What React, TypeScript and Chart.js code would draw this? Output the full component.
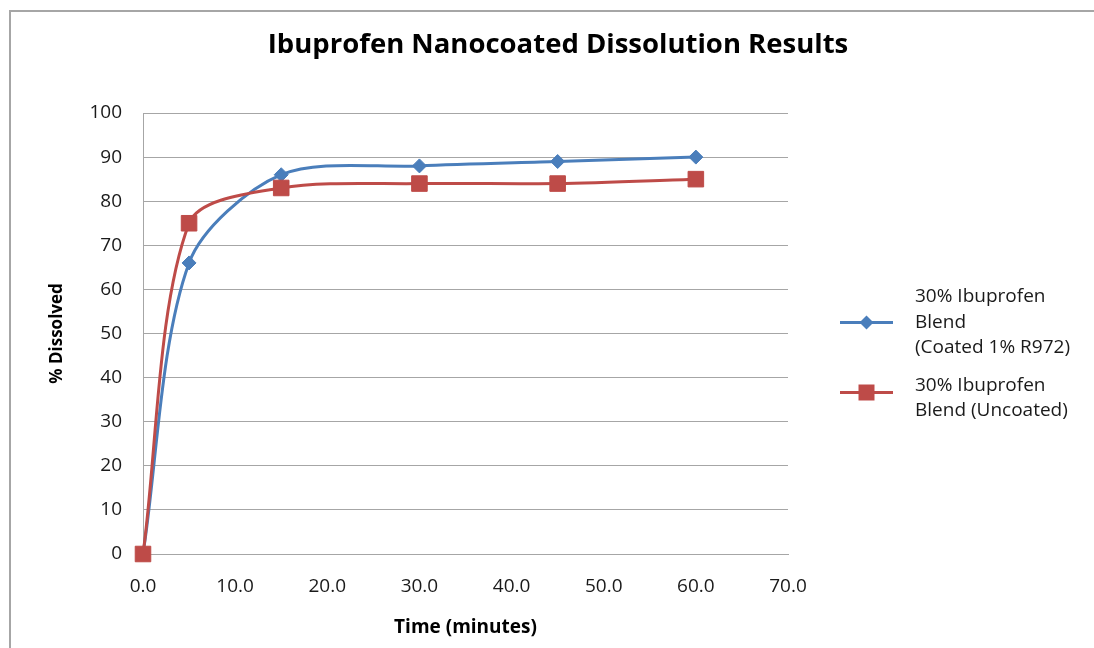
import React, { useEffect, useRef } from "react";
import { Chart, registerables } from "chart.js";

Chart.register(...registerables);

const TITLE = "Ibuprofen Nanocoated Dissolution Results";
const X_TITLE = "Time (minutes)";
const Y_TITLE = "% Dissolved";
const TIMES = [0, 5, 15, 30, 45, 60];
const COATED = [0, 66, 86, 88, 89, 90];
const UNCOATED = [0, 75, 83, 84, 84, 85];
const SERIES_LABELS = [
  ["30% Ibuprofen", "Blend", "(Coated 1% R972)"],
  ["30% Ibuprofen", "Blend (Uncoated)"],
];
const COLORS = ["#4A7EBB", "#BE4B48"];
const FONT = "'Open Sans', 'Noto Sans', sans-serif";

const titleAndLegend = {
  id: "titleAndLegend",
  afterDraw(chart: any) {
    const { ctx, chartArea } = chart;
    ctx.save();
    // title
    ctx.font = `bold 27.5px ${FONT}`;
    ctx.fillStyle = "#000";
    ctx.textAlign = "center";
    ctx.textBaseline = "middle";
    ctx.fillText(TITLE, chart.width / 2 + 11, 45);

    // legend
    const lineStart = chartArea.right + 52;
    const lineEnd = chartArea.right + 105;
    const textX = chartArea.right + 127;
    const lh = 25.5;
    let y = 297;
    ctx.font = `19px ${FONT}`;
    ctx.textAlign = "left";
    chart.data.datasets.forEach((ds: any, i: number) => {
      const lines = SERIES_LABELS[i];
      const my = i === 0 ? y + lh : y + 7;
      const mx = (lineStart + lineEnd) / 2;
      ctx.strokeStyle = ds.borderColor;
      ctx.lineWidth = 3;
      ctx.beginPath();
      ctx.moveTo(lineStart, my);
      ctx.lineTo(lineEnd, my);
      ctx.stroke();
      ctx.fillStyle = ds.backgroundColor;
      ctx.beginPath();
      if (ds.pointStyle === "rectRot") {
        const r = 7;
        ctx.moveTo(mx - r, my);
        ctx.lineTo(mx, my - r);
        ctx.lineTo(mx + r, my);
        ctx.lineTo(mx, my + r);
        ctx.closePath();
      } else {
        const s = 8;
        ctx.rect(mx - s, my - s, 2 * s, 2 * s);
      }
      ctx.fill();
      ctx.fillStyle = "#1a1a1a";
      lines.forEach((t: string, k: number) => {
        ctx.fillText(t, textX, y + k * lh);
      });
      y += lines.length * lh + 12;
    });
    ctx.restore();
  },
};

export default function App() {
  const ref = useRef<HTMLCanvasElement>(null);
  useEffect(() => {
    if (!ref.current) return;
    const chart = new Chart(ref.current, {
      type: "line",
      data: {
        datasets: [
          {
            label: SERIES_LABELS[0].join(" "),
            data: TIMES.map((t, i) => ({ x: t, y: COATED[i] })),
            borderColor: COLORS[0],
            backgroundColor: COLORS[0],
            borderWidth: 3,
            pointStyle: "rectRot",
            pointRadius: 7,
            pointBorderWidth: 1,
            tension: 0.3,
            clip: false,
            order: 2,
          },
          {
            label: SERIES_LABELS[1].join(" "),
            data: TIMES.map((t, i) => ({ x: t, y: UNCOATED[i] })),
            borderColor: COLORS[1],
            backgroundColor: COLORS[1],
            borderWidth: 3,
            pointStyle: "rect",
            pointRadius: 11,
            pointBorderWidth: 1,
            tension: 0.3,
            clip: false,
            order: 1,
          },
        ],
      },
      options: {
        responsive: false,
        animation: false,
        layout: { padding: { left: 0, right: 306, top: 113, bottom: 0 } },
        plugins: {
          legend: { display: false },
          tooltip: { enabled: false },
          title: { display: false },
        },
        scales: {
          x: {
            type: "linear",
            min: 0,
            max: 70,
            ticks: {
              stepSize: 10,
              padding: 21,
              color: "#1a1a1a",
              font: { family: FONT, size: 19 },
              callback: (v: any) => Number(v).toFixed(1),
            },
            grid: { display: false, drawTicks: false },
            border: { display: true, color: "#a6a6a6", width: 1 },
            title: {
              display: true,
              text: X_TITLE,
              color: "#000",
              font: { family: FONT, size: 19, weight: "bold" },
              padding: { top: 0, bottom: 9 },
            },
            afterFit: (s: any) => {
              s.height = 94;
            },
          },
          y: {
            min: 0,
            max: 100,
            ticks: {
              stepSize: 10,
              padding: 21,
              color: "#1a1a1a",
              font: { family: FONT, size: 19 },
            },
            grid: { color: "#a6a6a6", lineWidth: 1, drawTicks: false },
            border: { display: true, color: "#a6a6a6", width: 1 },
            title: {
              display: true,
              text: Y_TITLE,
              color: "#000",
              font: { family: FONT, size: 17, weight: "bold" },
              padding: { top: 47, bottom: 0 },
            },
            afterFit: (s: any) => {
              s.width = 143;
            },
          },
        },
      },
      plugins: [titleAndLegend],
    });
    return () => chart.destroy();
  }, []);
  return (
    <div
      style={{
        position: "fixed",
        left: 0,
        top: 0,
        width: 1094,
        height: 648,
        overflow: "hidden",
        background: "#fff",
      }}
    >
      <div
        style={{
          position: "absolute",
          left: 9,
          top: 10,
          width: 2000,
          height: 2000,
          borderLeft: "2px solid #a6a6a6",
          borderTop: "2px solid #a6a6a6",
        }}
      />
      <canvas
        ref={ref}
        width={1094}
        height={648}
        style={{ position: "absolute", left: 0, top: 0 }}
      />
    </div>
  );
}
